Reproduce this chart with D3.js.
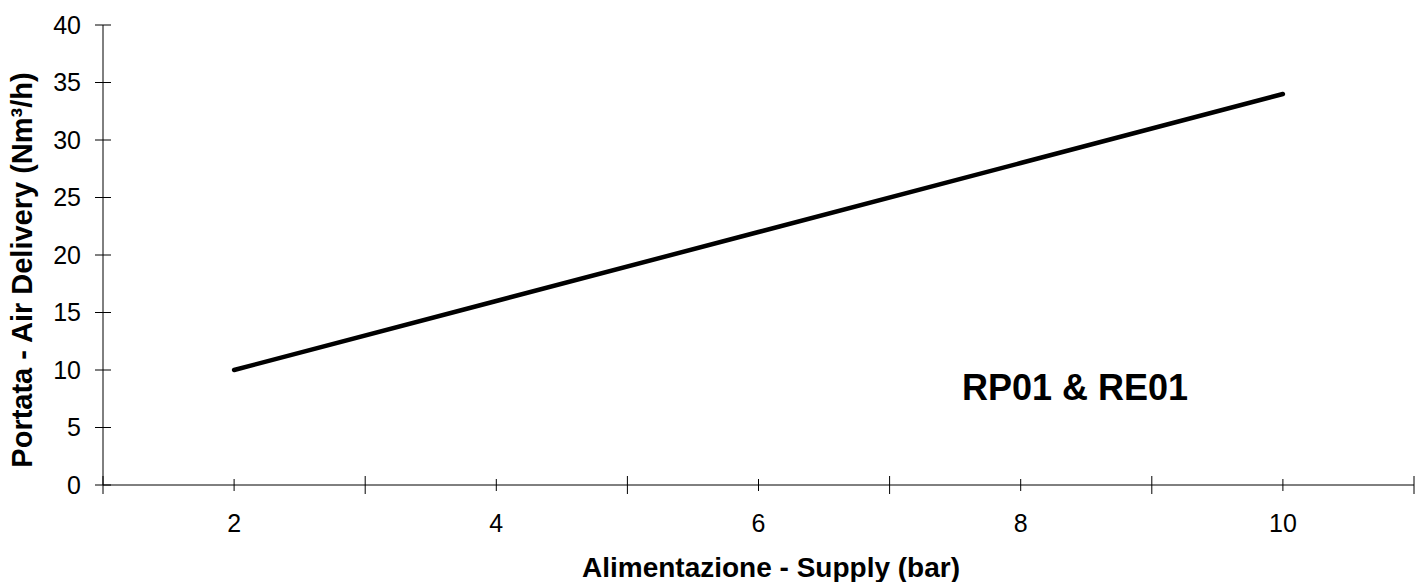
<!DOCTYPE html>
<html>
<head>
<meta charset="utf-8">
<script src="https://cdn.jsdelivr.net/npm/d3@7"></script>
<style>
  body { margin: 0; background: #fff; }
  text { font-family: "Liberation Sans", Arial, sans-serif; fill: #000; }
</style>
</head>
<body>
<svg id="chart"></svg>
<script>
// data
const supplyBar = [2, 4, 6, 8, 10];
const airDelivery = [10, 16, 22, 28, 34];
const xTicksMajor = [1, 3, 5, 7, 9, 11];
const xTicksLabelled = [2, 4, 6, 8, 10];
const yTicks = [0, 5, 10, 15, 20, 25, 30, 35, 40];
const seriesLabel = "RP01 & RE01";
const xTitle = "Alimentazione - Supply (bar)";
const yTitle = "Portata - Air Delivery (Nm³/h)";

const width = 1425;
const height = 582;
const margin = { top: 25, right: 11, bottom: 97, left: 103 };

const svg = d3.select("#chart").attr("width", width).attr("height", height);

const x = d3.scaleLinear().domain([1, 11]).range([margin.left, width - margin.right]);
const y = d3.scaleLinear().domain([0, 40]).range([height - margin.bottom, margin.top]);

const axisColor = "#000";

// y axis
svg.append("line")
  .attr("x1", x(1)).attr("x2", x(1))
  .attr("y1", y(40)).attr("y2", y(0))
  .attr("stroke", axisColor).attr("stroke-width", 1);

svg.selectAll(".ytick")
  .data(yTicks)
  .join("line")
  .attr("class", "ytick")
  .attr("x1", x(1) - 8).attr("x2", x(1) + 8)
  .attr("y1", d => y(d)).attr("y2", d => y(d))
  .attr("stroke", axisColor);

svg.selectAll(".ylabel")
  .data(yTicks)
  .join("text")
  .attr("class", "ylabel")
  .attr("x", 81)
  .attr("y", d => y(d))
  .attr("dy", "0.35em")
  .attr("text-anchor", "end")
  .style("font-size", "25px")
  .text(d => d);

// x axis
svg.append("line")
  .attr("x1", x(1)).attr("x2", x(11))
  .attr("y1", y(0)).attr("y2", y(0))
  .attr("stroke", axisColor).attr("stroke-width", 1);

svg.selectAll(".xmajor")
  .data(xTicksMajor)
  .join("line")
  .attr("class", "xmajor")
  .attr("x1", d => x(d)).attr("x2", d => x(d))
  .attr("y1", y(0) - 9).attr("y2", y(0) + 9)
  .attr("stroke", axisColor);

svg.selectAll(".xminor")
  .data(xTicksLabelled)
  .join("line")
  .attr("class", "xminor")
  .attr("x1", d => x(d)).attr("x2", d => x(d))
  .attr("y1", y(0) - 6).attr("y2", y(0) + 6)
  .attr("stroke", axisColor);

svg.selectAll(".xlabel")
  .data(xTicksLabelled)
  .join("text")
  .attr("class", "xlabel")
  .attr("x", d => x(d))
  .attr("y", 532)
  .attr("text-anchor", "middle")
  .style("font-size", "25px")
  .text(d => d);

// series line
const line = d3.line()
  .x((d, i) => x(supplyBar[i]))
  .y(d => y(d));

svg.append("path")
  .datum(airDelivery)
  .attr("d", line)
  .attr("fill", "none")
  .attr("stroke", "#000")
  .attr("stroke-width", 4.5)
  .attr("stroke-linecap", "round");

// series label
svg.append("text")
  .attr("x", 962)
  .attr("y", 400)
  .style("font-size", "36px")
  .style("font-weight", "bold")
  .text(seriesLabel);

// axis titles
svg.append("text")
  .attr("x", 771)
  .attr("y", 577)
  .attr("text-anchor", "middle")
  .style("font-size", "28px")
  .style("font-weight", "bold")
  .text(xTitle);

svg.append("text")
  .attr("transform", "translate(32,270) rotate(-90)")
  .attr("text-anchor", "middle")
  .style("font-size", "29px")
  .style("font-weight", "bold")
  .text(yTitle);
</script>
</body>
</html>
